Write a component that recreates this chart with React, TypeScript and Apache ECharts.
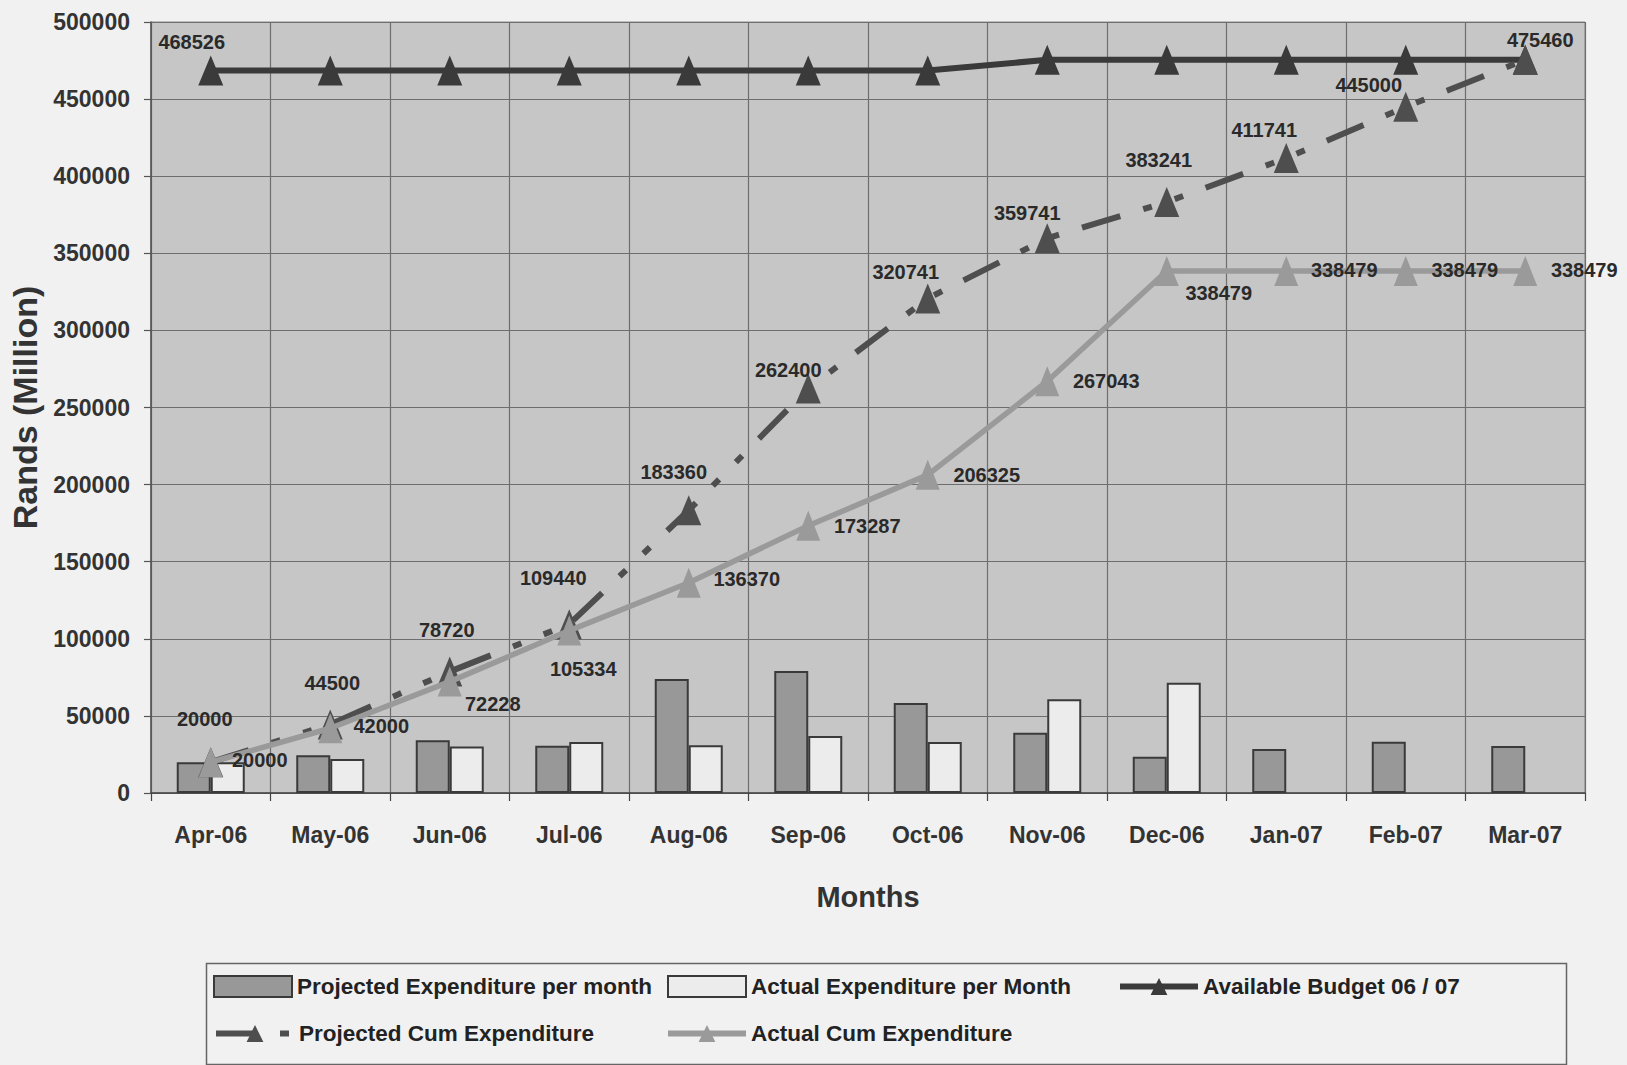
import React, { useEffect, useRef } from "react";
import * as echarts from "echarts";

const months = ["Apr-06", "May-06", "Jun-06", "Jul-06", "Aug-06", "Sep-06", "Oct-06", "Nov-06", "Dec-06", "Jan-07", "Feb-07", "Mar-07"];
const projectedMonthly = [20000, 24500, 34220, 30720, 73920, 79040, 58341, 39000, 23500, 28500, 33259, 30460];
const actualMonthly: (number | null)[] = [20000, 22000, 30228, 33106, 31036, 36917, 33038, 60718, 71436, null, null, null];
const availableBudget = [468526, 468526, 468526, 468526, 468526, 468526, 468526, 475460, 475460, 475460, 475460, 475460];
const projectedCum = [20000, 44500, 78720, 109440, 183360, 262400, 320741, 359741, 383241, 411741, 445000, 475460];
const actualCum = [20000, 42000, 72228, 105334, 136370, 173287, 206325, 267043, 338479, 338479, 338479, 338479];
const yMin = 0;
const yMax = 500000;
const yStep = 50000;

const FONT = "'Liberation Sans', Arial, Helvetica, sans-serif";

// label placement (style only)
const projLabelOffsets: [number, number][] = [
  [-6, -43], [2, -41], [-3, -42], [-16, -46], [-15, -38], [-20, -18],
  [-22, -26], [-20, -25], [-8, -42], [-22, -28], [-37, -22], [15, -20],
];
const actLabelOffsets: [number, number][] = [
  [49, -2], [51, -2], [43, 22], [14, 38], [58, -4], [59, 0],
  [59, 0], [59, 0], [52, 22], [58, -1], [59, -1], [59, -1],
];

export default function App() {
  const ref = useRef<HTMLDivElement>(null);
  useEffect(() => {
    if (!ref.current) return;
    const chart = echarts.init(ref.current, undefined, { renderer: "svg" });
    const labelStyle = {
      fontFamily: FONT,
      fontSize: 20,
      fontWeight: "bold" as const,
      color: "#2a2a2a",
    };
    const legendText = {
      fontFamily: FONT,
      fontSize: 22.5,
      fontWeight: "bold" as const,
      color: "#222",
    };
    const legendCommon = {
      orient: "horizontal" as const,
      padding: 0,
      itemWidth: 78,
      itemHeight: 21,
      textStyle: legendText,
      selectedMode: false,
    };
    const option: any = {
      animation: false,
      backgroundColor: "#f1f1f1",
      grid: {
        left: 151,
        right: 42,
        top: 22,
        bottom: 272,
        containLabel: false,
        show: true,
        backgroundColor: "#c6c6c6",
        borderColor: "#8a8a8a",
        borderWidth: 1,
      },
      xAxis: {
        type: "category",
        data: months,
        boundaryGap: true,
        axisLine: { show: true, lineStyle: { color: "#444", width: 1.5 } },
        axisTick: { show: true, length: 8, lineStyle: { color: "#444", width: 1.2 } },
        axisLabel: {
          interval: 0,
          margin: 30,
          fontSize: 23,
          fontWeight: "bold",
          fontFamily: FONT,
          color: "#333",
        },
        splitLine: { show: true, lineStyle: { color: "#6e6e6e", width: 1.2 } },
        name: "Months",
        nameLocation: "middle",
        nameGap: 89,
        nameTextStyle: { fontSize: 29, fontWeight: "bold", fontFamily: FONT, color: "#333" },
      },
      yAxis: {
        type: "value",
        min: yMin,
        max: yMax,
        interval: yStep,
        axisLine: { show: true, lineStyle: { color: "#555", width: 1.5 } },
        axisTick: { show: true, length: 7, lineStyle: { color: "#555", width: 1.2 } },
        axisLabel: {
          margin: 21,
          fontSize: 23,
          fontWeight: "bold",
          fontFamily: FONT,
          color: "#333",
          formatter: (v: number) => String(v),
        },
        splitLine: { show: true, lineStyle: { color: "#6e6e6e", width: 1.2 } },
        name: "Rands (Million)",
        nameLocation: "middle",
        nameGap: 109,
        nameTextStyle: { fontSize: 34, fontWeight: "bold", fontFamily: FONT, color: "#333" },
      },
      legend: [
        { ...legendCommon, data: [{ name: "Projected Expenditure per month", icon: "rect" }], left: 213, top: 975 },
        { ...legendCommon, data: [{ name: "Actual Expenditure per Month", icon: "rect" }], left: 667, top: 975 },
        { ...legendCommon, data: ["Available Budget 06 / 07"], left: 1117, top: 975, lineStyle: { width: 6 } },
        { ...legendCommon, data: ["Projected Cum Expenditure"], left: 213, top: 1022, lineStyle: { width: 6 } },
        { ...legendCommon, data: ["Actual Cum Expenditure"], left: 665, top: 1022, lineStyle: { width: 6 } },
      ],
      graphic: [
        {
          type: "rect",
          left: 204,
          top: 961,
          shape: { width: 1360, height: 101 },
          style: { fill: "none", stroke: "#666", lineWidth: 1.5 },
          silent: true,
        },
      ],
      series: [
        {
          name: "Projected Expenditure per month",
          type: "bar",
          data: projectedMonthly,
          barWidth: 34,
          barGap: "0%",
          itemStyle: { color: "#989898", borderColor: "#3a3a3a", borderWidth: 2 },
          z: 1,
        },
        {
          name: "Actual Expenditure per Month",
          type: "bar",
          data: actualMonthly,
          barWidth: 34,
          barGap: "0%",
          itemStyle: { color: "#ececec", borderColor: "#3a3a3a", borderWidth: 2 },
          z: 1,
        },
        {
          name: "Available Budget 06 / 07",
          type: "line",
          data: availableBudget.map((v, i) =>
            i === 0
              ? { value: v, label: { show: true, position: "inside", offset: [-19, -29], ...labelStyle } }
              : { value: v }
          ),
          symbol: "triangle",
          symbolSize: [25, 30],
          lineStyle: { color: "#3a3a3a", width: 6 },
          itemStyle: { color: "#3a3a3a" },
          label: { show: false },
          z: 3,
        },
        {
          name: "Projected Cum Expenditure",
          type: "line",
          data: projectedCum.map((v, i) => ({
            value: v,
            label: { show: true, position: "inside", offset: projLabelOffsets[i], ...labelStyle },
          })),
          symbol: "triangle",
          symbolSize: [25, 30],
          lineStyle: { color: "#4e4e4e", width: 6, type: [40, 24, 9, 24, 9, 24] },
          itemStyle: { color: "#4e4e4e" },
          z: 4,
        },
        {
          name: "Actual Cum Expenditure",
          type: "line",
          data: actualCum.map((v, i) => ({
            value: v,
            label: { show: true, position: "inside", offset: actLabelOffsets[i], ...labelStyle },
          })),
          symbol: "triangle",
          symbolSize: [24, 30],
          lineStyle: { color: "#9a9a9a", width: 5.5 },
          itemStyle: { color: "#9a9a9a" },
          z: 5,
        },
      ],
    };
    chart.setOption(option);
    return () => chart.dispose();
  }, []);
  return (
    <div
      ref={ref}
      style={{ position: "fixed", left: 0, top: 0, width: 1627, height: 1065 }}
    />
  );
}
